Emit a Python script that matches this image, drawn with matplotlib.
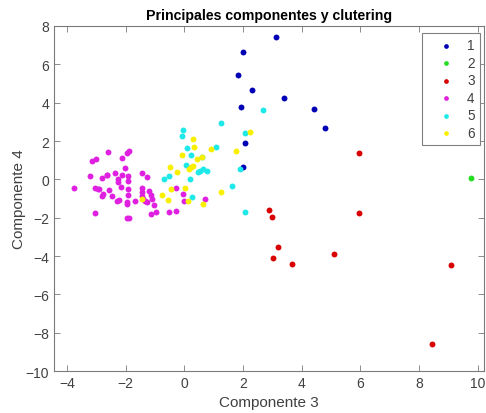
import matplotlib
matplotlib.use("Agg")
import matplotlib.pyplot as plt

plt.rcParams['font.family'] = ['Liberation Sans', 'DejaVu Sans']

# Puntos de cada cluster (componente 3, componente 4)
c1_x = [3.13, 2.00, 1.82, 2.30, 3.40, 1.94, 4.43, 4.81, 2.05, 2.01]
c1_y = [7.42, 6.63, 5.46, 4.64, 4.26, 3.75, 3.65, 2.69, 1.88, 0.65]

c2_x = [9.78]
c2_y = [0.09]

c3_x = [5.97, 2.88, 2.99, 5.94, 3.18, 3.02, 3.68, 5.11, 9.10, 8.44]
c3_y = [1.38, -1.62, -1.97, -1.75, -3.51, -4.10, -4.42, -3.87, -4.47, -8.59]

c4_x = [-3.76, -3.23, -3.15, -3.00, -2.60, -2.14, -1.95, -1.89, -2.02, -2.63,
        -2.82, -2.37, -2.13, -1.93, -2.27, -2.26, -1.92, -1.43, -1.26, -3.05,
        -2.96, -2.92, -2.57, -2.18, -2.76, -2.81, -2.46, -1.93, -1.92, -2.30,
        -2.24, -1.97, -1.96, -1.67, -1.44, -1.43, -1.43, -1.41, -1.35, -1.29,
        -1.22, -1.09, -1.04, -1.14, -0.98, -3.05, -1.96, -1.88, -0.53, -0.28,
        -0.27, -0.04, -0.02, 0.70, -1.13, -2.65]
c4_y = [-0.44, 0.16, 0.94, 1.06, 1.43, 1.10, 1.36, 1.47, 0.58, 0.23,
        0.05, 0.35, 0.25, 0.17, 0.04, -0.14, -0.09, 0.33, 0.14, -0.47,
        -0.49, -0.51, -0.56, -0.40, -0.75, -0.87, -0.87, -0.52, -0.82, -1.12,
        -1.08, -1.17, -1.27, -1.15, -0.47, -0.66, -0.87, -1.05, -1.15, -1.20,
        -0.61, -1.05, -1.32, -1.83, -1.69, -1.78, -2.01, -2.01, -1.69, -1.67,
        -0.47, -0.79, -1.15, -1.00, -0.82, 0.21]

c5_x = [2.68, 1.24, 2.05, -0.06, -0.08, 1.09, 0.09, 0.22, 0.59, 0.06,
        0.52, 0.46, 0.63, 0.77, 1.89, -0.71, -0.51, 0.19, 1.61, 0.26, 2.05]
c5_y = [3.61, 2.95, 2.44, 2.60, 2.27, 1.68, 1.61, 1.29, 1.17, 0.73,
        0.45, 0.36, 0.52, 0.42, 0.55, 0.00, 0.16, 0.00, -0.35, -0.94, -1.69]

c6_x = [0.30, 0.32, -0.09, 0.89, 0.61, 0.44, 1.77, 2.22, -0.49, -0.25,
        0.15, 0.23, 0.30, 0.02, -0.46, -0.77, -0.55, 0.13, 0.64, 1.26, -1.43]
c6_y = [2.13, 1.69, 1.26, 1.57, 1.15, 1.08, 1.48, 2.48, 0.66, 0.38,
        0.56, 0.63, 0.70, -0.45, -0.49, -0.82, -1.08, -1.12, -1.27, -0.66, -1.05]

grupos = [
    ("1", c1_x, c1_y, "#0000b4"),
    ("2", c2_x, c2_y, "#22dd22"),
    ("3", c3_x, c3_y, "#d80000"),
    ("4", c4_x, c4_y, "#e020e0"),
    ("5", c5_x, c5_y, "#1ee8e8"),
    ("6", c6_x, c6_y, "#f8f000"),
]

fig = plt.figure(figsize=(4.86, 4.14), dpi=100)
ax = fig.add_axes([0.111, 0.1014, 0.885, 0.8334])

for nombre, xs, ys, col in grupos:
    ax.scatter(xs, ys, s=18, color=col, label=nombre, linewidths=0, zorder=3)

ax.set_xlim(-4.45, 10.22)
ax.set_ylim(-10, 8)
ax.set_xticks(range(-4, 11, 2))
ax.set_yticks(range(-10, 9, 2))

gris = "#404040"
for s in ax.spines.values():
    s.set_color("#7a7a7a")
    s.set_linewidth(0.8)
ax.tick_params(direction="in", length=4, width=0.6, color="#7a7a7a",
               labelcolor=gris, labelsize=10, top=True, right=True)

ax.set_title("Principales componentes y clutering", fontsize=10.2,
             fontweight="bold", color="black", pad=5)
ax.set_xlabel("Componente 3", fontsize=11, color=gris, labelpad=4)
ax.set_ylabel("Componente 4", fontsize=11, color=gris, labelpad=0)

leg = ax.legend(loc="upper right", bbox_to_anchor=(0.991, 0.980),
                borderaxespad=0, scatterpoints=1, fontsize=9.8,
                fancybox=False, framealpha=1, edgecolor="#808080",
                handlelength=2.7, handletextpad=0.2, labelspacing=0.26,
                borderpad=0.4, markerscale=0.8)
leg.get_frame().set_linewidth(0.8)
for t in leg.get_texts():
    t.set_color(gris)

fig.savefig("out.png", dpi=100)
